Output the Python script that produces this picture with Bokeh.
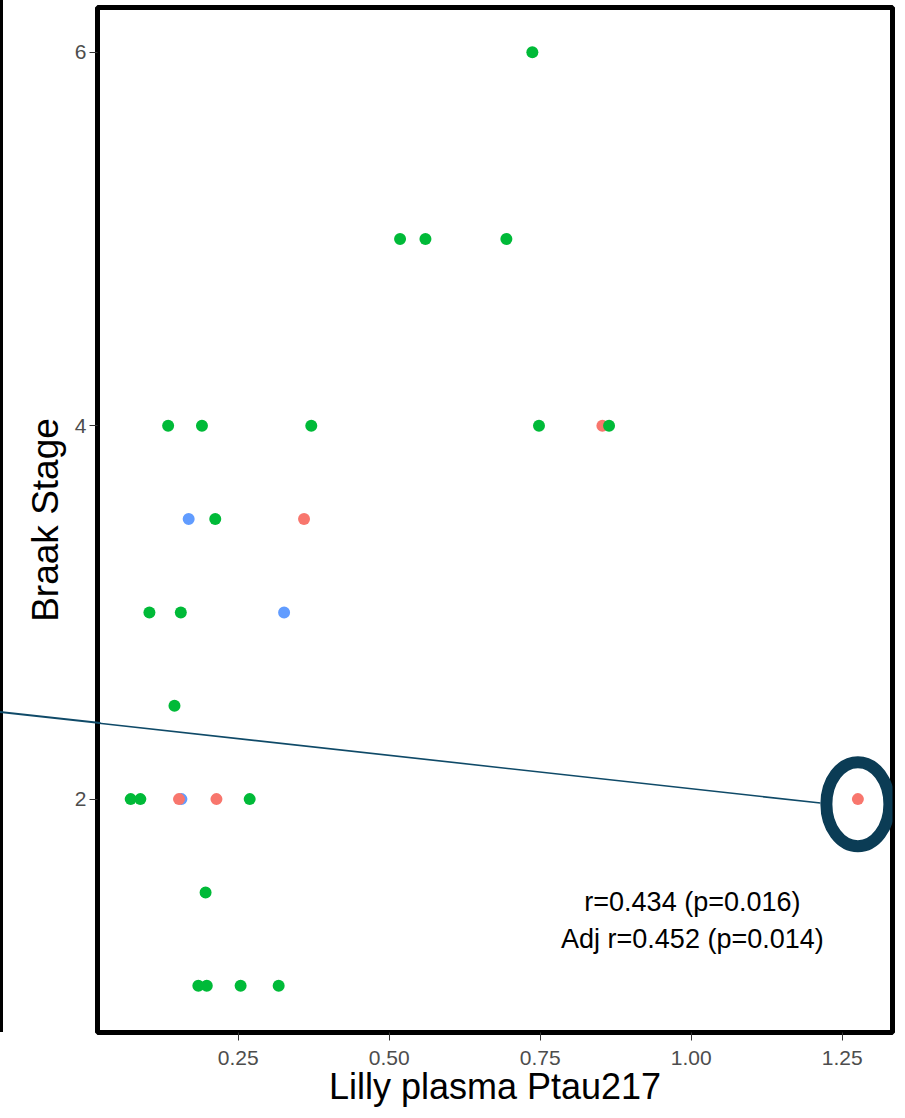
import math
from bokeh.plotting import figure
from bokeh.models import Range1d, FixedTicker, Label, InlineStyleSheet
from bokeh.embed import file_html
from bokeh.resources import INLINE

# ---- data ----
green_x = [0.737, 0.518, 0.560, 0.694, 0.134, 0.190, 0.371, 0.748, 0.864,
           0.212, 0.103, 0.155, 0.1445, 0.072, 0.088, 0.269, 0.196,
           0.184, 0.198, 0.254, 0.317]
green_y = [6, 5, 5, 5, 4, 4, 4, 4, 4,
           3.5, 3, 3, 2.5, 2, 2, 2, 1.5,
           1, 1, 1, 1]
red_x = [0.853, 0.359, 0.152, 0.214, 1.276]
red_y = [4, 3.5, 2, 2, 2]
blue_x = [0.168, 0.326, 0.156]
blue_y = [3.5, 3, 2]

x_ticks = [0.25, 0.50, 0.75, 1.00, 1.25]
x_tick_labels = ["0.25", "0.50", "0.75", "1.00", "1.25"]
y_ticks = [2, 4, 6]
y_tick_labels = ["2", "4", "6"]

stats_lines = ["r=0.434 (p=0.016)", "Adj r=0.452 (p=0.014)"]
x_title = "Lilly plasma Ptau217"
y_title = "Braak Stage"

# highlighted outlier (last red point)
hl_x, hl_y = red_x[-1], red_y[-1]

FONT = "Liberation Sans"
X0, X1 = 0.01705, 1.3333
Y0, Y1 = 0.75, 6.24
W, H = 897, 1110
BL, BR, BT, BB = 97, 5, 7, 78
px_x = (W - BL - BR) / (X1 - X0)   # pixels per x unit
px_y = (H - BT - BB) / (Y1 - Y0)   # pixels per y unit

# pointer line (annotation) from the page's left edge to the highlight
lx0, ly0 = X0 - BL / px_x, 2.465
lx1, ly1 = hl_x - 0.062, hl_y - 0.021
slope = ((ly0 - ly1) * px_y) / ((lx1 - lx0) * px_x)
ang = math.degrees(math.atan(slope))
start_top = BT + (Y1 - ly0) * px_y
stub_len = (BL + 3) / math.cos(math.radians(ang))

css = f"""
:host {{ position: relative; }}
:host::before {{
  content: ""; position: absolute; left: 0px; top: 0px;
  width: 3px; height: {BT + (Y1 - Y0) * px_y:.1f}px;
  background-color: #000000; z-index: 10; pointer-events: none;
}}
:host::after {{
  content: ""; position: absolute; left: 0px; top: {start_top - 0.8:.1f}px;
  width: {stub_len:.1f}px; height: 1.6px; background-color: #0F4A68;
  transform-origin: 0 50%; transform: rotate({ang:.3f}deg);
  z-index: 10; pointer-events: none;
}}
"""

p = figure(width=W, height=H,
           x_range=Range1d(X0, X1), y_range=Range1d(Y0, Y1),
           output_backend="svg", toolbar_location=None,
           min_border_left=BL, min_border_right=BR,
           min_border_top=BT, min_border_bottom=BB,
           background_fill_color="white", border_fill_color="white",
           stylesheets=[InlineStyleSheet(css=css)])

p.xgrid.visible = False
p.ygrid.visible = False
p.outline_line_color = "black"
p.outline_line_width = 5
p.outline_line_alpha = 1.0

for ax in (p.xaxis[0], p.yaxis[0]):
    ax.axis_line_color = None
    ax.major_tick_line_color = "#333333"
    ax.major_tick_line_width = 1
    ax.major_tick_out = 8
    ax.major_tick_in = 0
    ax.minor_tick_line_color = None
    ax.major_label_text_font = FONT
    ax.major_label_text_font_size = "21px"
    ax.major_label_text_color = "#4D4D4D"
    ax.major_label_text_line_height = 1.0
    ax.axis_label_text_font = FONT
    ax.axis_label_text_font_style = "normal"
    ax.axis_label_text_color = "black"
    ax.axis_label_text_line_height = 1.0

p.xaxis[0].ticker = FixedTicker(ticks=x_ticks)
p.xaxis[0].major_label_overrides = dict(zip(x_ticks, x_tick_labels))
p.xaxis[0].major_label_standoff = 10
p.xaxis[0].axis_label = x_title
p.xaxis[0].axis_label_text_font_size = "36px"
p.xaxis[0].axis_label_standoff = -2

p.yaxis[0].ticker = FixedTicker(ticks=y_ticks)
p.yaxis[0].major_label_overrides = dict(zip(y_ticks, y_tick_labels))
p.yaxis[0].major_label_standoff = 3
p.yaxis[0].major_label_orientation = "horizontal"
p.yaxis[0].axis_label = y_title
p.yaxis[0].axis_label_text_font_size = "37px"
p.yaxis[0].axis_label_standoff = 6

# points
p.scatter(blue_x, blue_y, size=12, fill_color="#619CFF", line_color=None)
p.scatter(red_x, red_y, size=12, fill_color="#F8766D", line_color=None)
p.scatter(green_x, green_y, size=12, fill_color="#00BA38", line_color=None)

# stats text
p.add_layout(Label(x=1.002, y=1.45, text=stats_lines[0], text_align="center",
                   text_baseline="alphabetic", text_font=FONT,
                   text_font_size="27px", text_color="black"))
p.add_layout(Label(x=1.002, y=1.25, text=stats_lines[1], text_align="center",
                   text_baseline="alphabetic", text_font=FONT,
                   text_font_size="27px", text_color="black"))

# highlight ellipse around outlier
p.ellipse(x=[hl_x], y=[hl_y - 0.027], width=63, height=84,
          width_units="screen", height_units="screen",
          fill_color=None, line_color="#0B3C55", line_width=12)

# pointer line inside the plot area
p.segment(x0=[lx0], y0=[ly0], x1=[lx1], y1=[ly1],
          line_color="#0F4A68", line_width=1.6)

open("out.html", "w").write(file_html(p, INLINE))
